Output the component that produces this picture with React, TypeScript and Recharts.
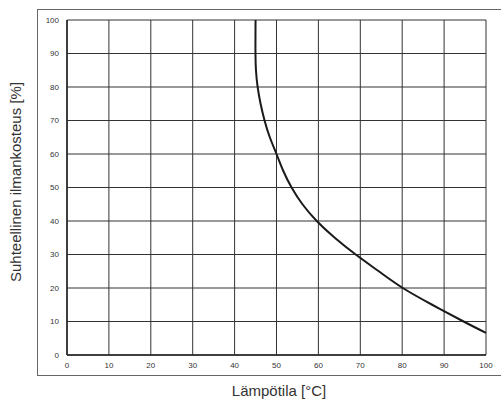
import React from "react";
import { LineChart, Line, XAxis, YAxis, CartesianGrid } from "recharts";

const temperature = [45.0, 44.98, 44.98, 45.1, 45.5, 46.2, 47.15, 48.4, 50.0, 51.6, 53.6, 56.2, 59.6, 63.9, 68.9, 74.4, 80.15, 87.15, 94.65, 100.0];
const humidity = [100, 95, 90, 85, 80, 75, 70, 65, 60, 55, 50, 45, 40, 35, 30, 25, 20, 15, 10, 6.6];
const xTicks = [0, 10, 20, 30, 40, 50, 60, 70, 80, 90, 100];
const yTicks = [0, 10, 20, 30, 40, 50, 60, 70, 80, 90, 100];

const data = temperature.map((t, i) => ({ t, rh: humidity[i] }));

const font = "'Liberation Sans', Arial, sans-serif";

export default function App() {
  return (
    <div style={{ position: "absolute", left: 0, top: 0, width: 501, height: 401, background: "#fff" }}>
      <div
        style={{
          position: "absolute",
          left: 37,
          top: 9,
          width: 480,
          height: 367,
          border: "1px solid #666",
          boxSizing: "border-box",
        }}
      />
      <div style={{ position: "absolute", left: 0, top: 0 }}>
        <LineChart width={501} height={401} data={data} margin={{ top: 20, right: 15, bottom: 16, left: 0 }}>
          <CartesianGrid stroke="#333" strokeWidth={1} />
          <XAxis
            type="number"
            dataKey="t"
            domain={[0, 100]}
            ticks={xTicks}
            interval={0}
            height={30}
            tickLine={false}
            axisLine={{ stroke: "#222", strokeWidth: 1.5 }}
            tick={{ fontSize: 8, fill: "#333", fontFamily: font }}
            tickMargin={1}
          />
          <YAxis
            type="number"
            dataKey="rh"
            domain={[0, 100]}
            ticks={yTicks}
            interval={0}
            width={67}
            tickLine={false}
            axisLine={{ stroke: "#222", strokeWidth: 1.5 }}
            tick={{ fontSize: 8, fill: "#333", fontFamily: font }}
            tickMargin={2}
          />
          <Line
            type="natural"
            dataKey="rh"
            stroke="#1a1a1a"
            strokeWidth={2}
            dot={false}
            isAnimationActive={false}
          />
        </LineChart>
      </div>
      <svg width={501} height={401} style={{ position: "absolute", left: 0, top: 0, pointerEvents: "none" }}>
        <text x={279} y={396} textAnchor="middle" fontSize={15} fill="#333" fontFamily={font}>
          Lämpötila [°C]
        </text>
        <text
          x={0}
          y={0}
          transform="translate(21,182) rotate(-90)"
          textAnchor="middle"
          fontSize={15}
          fill="#333"
          fontFamily={font}
        >
          Suhteellinen ilmankosteus [%]
        </text>
      </svg>
    </div>
  );
}
